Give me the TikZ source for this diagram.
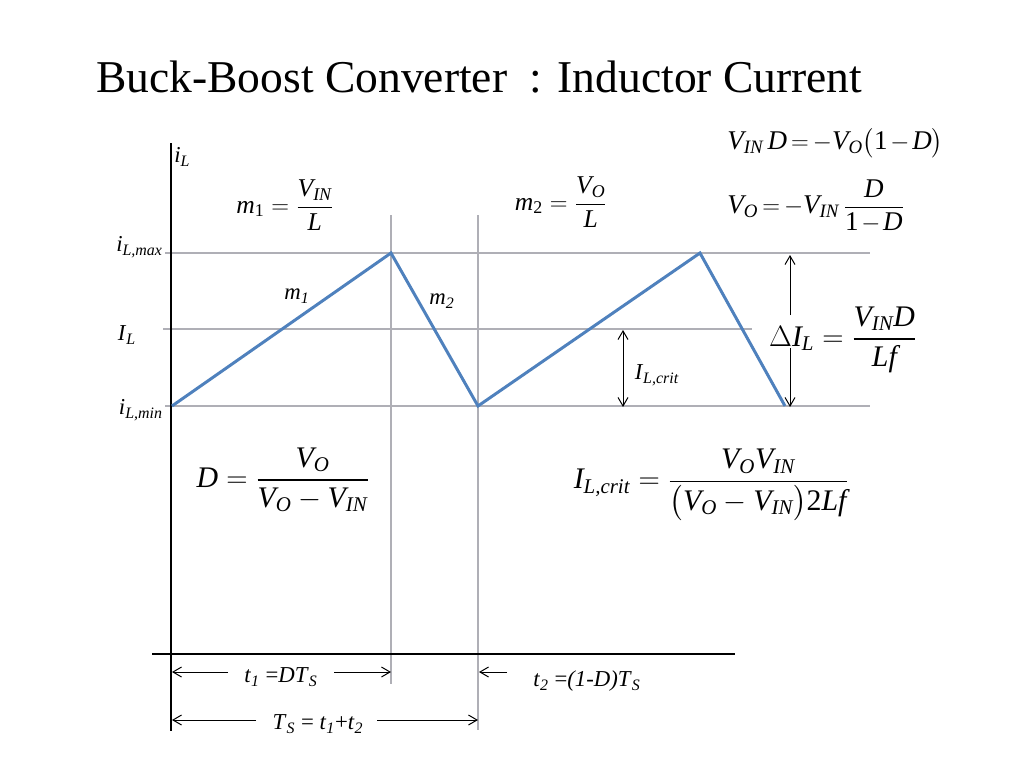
\documentclass[tikz,border=0pt]{standalone}
\usepackage{amsmath}
\usepackage{fontspec}
\setmainfont{Liberation Serif}
\usetikzlibrary{arrows.meta}
\newcommand\mi[1]{\textit{#1}}
\newcommand\sbi[1]{\textsubscript{\textit{#1}}}
\newcommand\tightmath{\thickmuskip=3mu\medmuskip=2mu}
\definecolor{wblue}{RGB}{79,129,189}
\definecolor{grid}{RGB}{175,175,182}
\begin{document}
\begin{tikzpicture}[x=0.703pt,y=-0.703pt,
  axis/.style={black,line width=0.8pt},
  gridline/.style={grid,line width=0.8pt},
  wave/.style={wblue,line width=2.1pt,line join=miter},
  arr/.style={black,line width=0.7pt,-{Straight Barb[length=6pt,width=7pt]}},
  darr/.style={black,line width=0.7pt,{Straight Barb[length=6pt,width=7pt]}-{Straight Barb[length=6pt,width=7pt]}},
  lab/.style={inner sep=0pt,font=\fontsize{16}{19}\selectfont},
  eq/.style={inner sep=0pt,font=\fontsize{18}{22}\selectfont},
  topeq/.style={inner sep=0pt,anchor=west,font=\fontsize{19}{23}\selectfont\tightmath},
  bigeq/.style={inner sep=0pt,font=\fontsize{21}{25}\selectfont}]
\useasboundingbox (0,0) rectangle (1024,768);
% title
\node[anchor=base west,inner sep=0pt,font=\fontsize{32}{38}\selectfont] (title) at (96,92) {Buck-Boost Converter\ \ : Inductor Current};
% grid
\coordinate (gmaxL) at (165,253); \coordinate (gmaxR) at (870,253);
\coordinate (gmidL) at (163,329); \coordinate (gmidR) at (752,329);
\coordinate (gminL) at (165,406); \coordinate (gminR) at (870,406);
\coordinate (v1T) at (391,215); \coordinate (v1B) at (391,684);
\coordinate (v2T) at (478,215); \coordinate (v2B) at (478,730);
\draw[gridline] (gmaxL) -- (gmaxR);
\draw[gridline] (gmidL) -- (gmidR);
\draw[gridline] (gminL) -- (gminR);
\draw[gridline] (v1T) -- (v1B);
\draw[gridline] (v2T) -- (v2B);
% axes
\coordinate (yT) at (171,143); \coordinate (yB) at (171,731);
\coordinate (xL) at (152,654); \coordinate (xR) at (735,654);
\draw[axis] (yT) -- (yB);
\draw[axis] (xL) -- (xR);
% waveform
\coordinate (p0) at (172,406); \coordinate (p1) at (391,253);
\coordinate (p2) at (478,406); \coordinate (p3) at (700,253);
\coordinate (p4) at (785,406);
\draw[wave] (p0) -- (p1) -- (p2) -- (p3) -- (p4);
% axis labels
\node[lab,anchor=west] (iL) at (174,157) {\mi{i}\sbi{L}};
\node[lab,anchor=east] (ilmax) at (163,247) {\mi{i}\sbi{L,max}};
\node[lab] (IL) at (127,335) {\mi{I}\sbi{L}};
\node[lab,anchor=east] (ilmin) at (163,410) {\mi{i}\sbi{L,min}};
\node[lab] (m1l) at (297,296) {\mi{m}\sbi{1}};
\node[lab] (m2l) at (442,301) {\mi{m}\sbi{2}};
% slope equations
\node[eq] (m1eq) at (285,205) {$\mi{m}_{\textup{1}} = \dfrac{\mi{V}_{\mi{IN}}}{\mi{L}}$};
\node[eq] (m2eq) at (561,202) {$\mi{m}_{\textup{2}} = \dfrac{\mi{V}_{\mi{O}}}{\mi{L}}$};
% top right equations
\node[topeq] (eq1) at (727,143) {$\mi{V}_{\mi{IN}}\,\mi{D} = -\mi{V}_{\mi{O}}\bigl(\textup{1} - \mi{D}\bigr)$};
\node[topeq] (eq2) at (727,206) {$\mi{V}_{\mi{O}} = -\mi{V}_{\mi{IN}}\;\dfrac{\mi{D}}{\textup{1}-\mi{D}}$};
% Delta I_L
\coordinate (dT) at (790,255); \coordinate (dTe) at (790,315);
\coordinate (dB) at (790,407); \coordinate (dBe) at (790,348);
\draw[arr] (dTe) -- (dT);
\draw[arr] (dBe) -- (dB);
\node[bigeq] (dIL) at (843,340) {$\Delta\mi{I}_{\mi{L}} = \dfrac{\mi{V}_{\mi{IN}}\mi{D}}{\mi{Lf}}$};
% I_L,crit
\coordinate (cT) at (623,330); \coordinate (cB) at (623,407);
\draw[darr] (cT) -- (cB);
\node[lab] (ILcrit) at (657,375) {\mi{I}\sbi{L,crit}};
% D and IL,crit equations
\node[bigeq] (Deq) at (283,480) {$\mi{D} = \dfrac{\mi{V}_{\mi{O}}}{\mi{V}_{\mi{O}} - \mi{V}_{\mi{IN}}}$};
\node[bigeq] (Ceq) at (711,485) {$\mi{I}_{\mi{L,crit}} = \dfrac{\mi{V}_{\mi{O}}\mi{V}_{\mi{IN}}}{\bigl(\mi{V}_{\mi{O}} - \mi{V}_{\mi{IN}}\bigr)\textup{2}\mi{Lf}}$};
% time arrows
\coordinate (a1s) at (228,672); \coordinate (a1e) at (172,672);
\coordinate (a2s) at (334,672); \coordinate (a2e) at (391,672);
\draw[arr] (a1s) -- (a1e);
\draw[arr] (a2s) -- (a2e);
\node[lab] (t1) at (281,677) {\mi{t}\sbi{1} =\mi{DT}\sbi{S}};
\coordinate (a3s) at (507,672); \coordinate (a3e) at (479,672);
\draw[arr] (a3s) -- (a3e);
\node[lab] (t2) at (587,681) {\mi{t}\sbi{2} =\mi{(1-D)T}\sbi{S}};
\coordinate (a4s) at (256,720); \coordinate (a4e) at (172,720);
\coordinate (a5s) at (377,720); \coordinate (a5e) at (478,720);
\draw[arr] (a4s) -- (a4e);
\draw[arr] (a5s) -- (a5e);
\node[lab] (TS) at (318,724) {\mi{T}\sbi{S} = \mi{t}\sbi{1}+\mi{t}\sbi{2}};
\end{tikzpicture}
\end{document}
